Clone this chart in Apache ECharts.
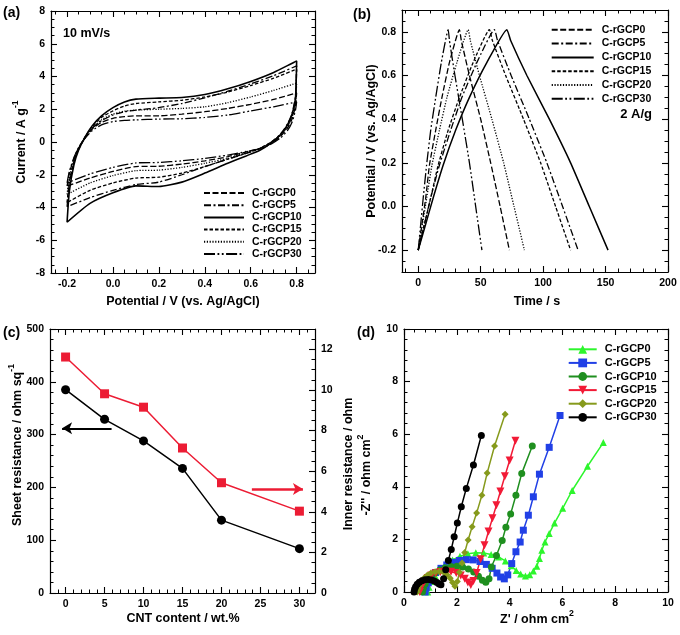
<!DOCTYPE html>
<html><head><meta charset="utf-8">
<script src="https://cdn.jsdelivr.net/npm/echarts@6/dist/echarts.min.js"></script>
<style>html,body{margin:0;padding:0;background:#fff}#c{width:680px;height:635px}</style>
</head><body><div id="c"></div>
<script>
// ---------- shared ----------
const names = ['C-rGCP0','C-rGCP5','C-rGCP10','C-rGCP15','C-rGCP20','C-rGCP30'];
const dashes = [[6,2.5],[7,2.5,2,2.5],'solid',[3.5,2],[1.2,1.6],[11,2.5,1.8,2.5,1.8,2.5]];

// ---------- (a) cyclic voltammetry, 10 mV/s ----------
const cvUpV   = [-0.2,-0.19,-0.17,-0.15,-0.12,-0.09,-0.05,0,0.05,0.1,0.2,0.3,0.4,0.5,0.6,0.7,0.8];
const cvDownV = [0.795,0.78,0.76,0.73,0.69,0.64,0.58,0.5,0.4,0.3,0.2,0.1,0,-0.1,-0.2];
const cvUp0   = [-2.7,-1.9,-1.0,-0.35,0.3,0.8,1.2,1.45,1.55,1.6,1.6,1.7,1.85,2.05,2.3,2.6,3.0];
const cvDown0 = [2.2,1.4,0.85,0.35,-0.08,-0.4,-0.6,-0.9,-1.15,-1.35,-1.48,-1.5,-1.8,-2.2,-2.7];
const cvUp5   = [-3.95,-2.5,-1.25,-0.45,0.3,0.85,1.3,1.65,1.85,1.95,2.1,2.35,2.7,3.1,3.55,4.05,4.65];
const cvDown5 = [2.8,1.75,1.1,0.5,0.0,-0.4,-0.7,-1.05,-1.5,-2.0,-2.45,-2.6,-2.95,-3.4,-3.95];
const cvUp10  = [-4.9,-3.0,-1.4,-0.5,0.35,1.0,1.6,2.1,2.45,2.62,2.68,2.72,2.9,3.25,3.7,4.25,4.95];
const cvDown10= [2.7,1.7,1.05,0.45,-0.05,-0.5,-0.85,-1.3,-1.9,-2.45,-2.72,-2.68,-3.1,-3.75,-4.9];
const cvUp15  = [-3.7,-2.4,-1.2,-0.4,0.35,0.95,1.5,1.9,2.2,2.35,2.45,2.55,2.75,3.05,3.45,3.9,4.45];
const cvDown15= [2.55,1.6,1.0,0.45,0.0,-0.38,-0.68,-1.05,-1.5,-1.9,-2.15,-2.2,-2.5,-2.95,-3.7];
const cvUp20  = [-3.2,-2.2,-1.1,-0.4,0.3,0.85,1.35,1.7,1.88,1.95,2.0,2.05,2.15,2.4,2.75,3.15,3.6];
const cvDown20= [2.4,1.5,0.95,0.4,-0.05,-0.4,-0.65,-1.0,-1.3,-1.55,-1.72,-1.75,-2.05,-2.5,-3.2];
const cvUp30  = [-2.5,-1.8,-0.95,-0.35,0.25,0.7,1.05,1.25,1.32,1.35,1.4,1.42,1.5,1.65,1.9,2.15,2.45];
const cvDown30= [1.95,1.2,0.7,0.25,-0.12,-0.42,-0.58,-0.8,-1.0,-1.15,-1.25,-1.28,-1.55,-1.95,-2.5];
const cvUps = [cvUp0,cvUp5,cvUp10,cvUp15,cvUp20,cvUp30];
const cvDowns = [cvDown0,cvDown5,cvDown10,cvDown15,cvDown20,cvDown30];

// ---------- (b) galvanostatic charge/discharge, 2 A/g : [time s, potential V] ----------
const gcd0  = [[0,-0.2],[3,-0.08],[6,0.04],[9,0.19],[14,0.35],[19,0.5],[25,0.66],[33,0.81],[34.5,0.76],[41,0.6],[50,0.4],[58,0.2],[65.6,0.0],[73,-0.2]];
const gcd5  = [[0,-0.2],[5,-0.08],[10,0.04],[17,0.19],[26,0.35],[35,0.5],[47,0.66],[61,0.81],[63.5,0.76],[74.4,0.6],[89,0.4],[103,0.2],[115.6,0.0],[128,-0.2]];
const gcd10 = [[0,-0.2],[6,-0.08],[12,0.04],[20,0.19],[30,0.35],[41,0.5],[55,0.66],[71,0.81],[74,0.76],[87,0.6],[105,0.4],[122,0.2],[137,0.0],[152,-0.2]];
const gcd15 = [[0,-0.2],[5,-0.08],[10,0.04],[16,0.19],[24,0.35],[33,0.5],[44,0.66],[57,0.81],[59.4,0.76],[70,0.6],[84.3,0.4],[98,0.2],[110,0.0],[122,-0.2]];
const gcd20 = [[0,-0.2],[3.4,-0.08],[6.8,0.04],[11,0.19],[17,0.35],[23,0.5],[31,0.66],[40,0.81],[41.7,0.76],[49,0.6],[59,0.4],[68.4,0.2],[76.7,0.0],[85,-0.2]];
const gcd30 = [[0,-0.2],[2,-0.08],[4,0.04],[6.7,0.19],[10,0.35],[14,0.5],[18.5,0.66],[24,0.81],[25,0.76],[29.4,0.6],[35.3,0.4],[41,0.2],[46,0.0],[51,-0.2]];
const gcds = [gcd0,gcd5,gcd10,gcd15,gcd20,gcd30];

// ---------- (c) resistance vs CNT content ----------
const cntContent = [0,5,10,15,20,30];
const sheetResistance = [385,329,288,236,138,84];
const innerResistance = [11.62,9.81,9.15,7.14,5.43,4.03];

// ---------- (d) Nyquist plots : [Z', -Z''] ----------
const eis0 = [[0.9,0.0],[0.95,0.18],[1.04,0.4],[1.18,0.62],[1.36,0.84],[1.58,1.04],[1.84,1.22],[2.12,1.36],[2.42,1.45],[2.72,1.49],[3.02,1.48],[3.3,1.43],[3.58,1.33],[3.84,1.18],[4.06,1.0],[4.25,0.82],[4.42,0.68],[4.6,0.61],[4.76,0.66],[4.9,0.8],[5.03,0.98],[5.13,1.27],[5.22,1.59],[5.34,1.9],[5.5,2.22],[5.7,2.62],[6.01,3.18],[6.37,3.86],[6.95,4.78],[7.55,5.68]];
const eis5 = [[0.8,0.0],[0.84,0.16],[0.92,0.35],[1.04,0.55],[1.2,0.74],[1.4,0.9],[1.62,1.03],[1.86,1.13],[2.1,1.2],[2.36,1.23],[2.62,1.22],[2.88,1.16],[3.12,1.05],[3.34,0.9],[3.52,0.72],[3.66,0.57],[3.8,0.5],[3.93,0.65],[4.08,1.08],[4.24,1.53],[4.4,1.9],[4.52,2.35],[4.71,2.92],[4.9,3.62],[5.13,4.48],[5.5,5.5],[5.91,6.71]];
const eis10 = [[0.7,0.0],[0.73,0.14],[0.8,0.3],[0.9,0.46],[1.03,0.6],[1.18,0.73],[1.36,0.84],[1.56,0.92],[1.78,0.97],[2.0,0.98],[2.22,0.95],[2.44,0.87],[2.64,0.76],[2.82,0.6],[2.97,0.45],[3.1,0.37],[3.22,0.5],[3.31,0.95],[3.5,1.39],[3.72,1.96],[3.86,2.46],[4.04,2.97],[4.24,3.68],[4.46,4.51],[4.86,5.55]];
const eis15 = [[0.6,0.0],[0.63,0.12],[0.69,0.26],[0.78,0.4],[0.9,0.53],[1.04,0.63],[1.2,0.71],[1.38,0.76],[1.58,0.78],[1.78,0.77],[1.98,0.72],[2.15,0.63],[2.3,0.5],[2.42,0.36],[2.53,0.27],[2.63,0.42],[2.75,0.72],[2.9,1.25],[3.05,1.78],[3.2,2.3],[3.35,2.8],[3.5,3.3],[3.65,3.82],[3.82,4.4],[4.0,5.0],[4.22,5.75]];
const eis20 = [[0.5,0.0],[0.53,0.12],[0.58,0.25],[0.66,0.4],[0.76,0.53],[0.88,0.64],[1.02,0.72],[1.18,0.77],[1.34,0.78],[1.5,0.75],[1.63,0.66],[1.75,0.52],[1.84,0.36],[1.93,0.22],[2.02,0.4],[2.1,0.75],[2.2,1.1],[2.3,1.5],[2.43,1.98],[2.58,2.48],[2.75,3.0],[2.95,3.68],[3.15,4.52],[3.43,5.55],[3.83,6.76]];
const eis30 = [[0.38,0.0],[0.4,0.1],[0.44,0.2],[0.5,0.29],[0.58,0.37],[0.68,0.43],[0.8,0.47],[0.92,0.48],[1.04,0.46],[1.15,0.42],[1.25,0.36],[1.33,0.3],[1.4,0.28],[1.5,0.5],[1.58,0.85],[1.68,1.2],[1.79,1.62],[1.9,2.1],[2.02,2.62],[2.17,3.24],[2.36,3.94],[2.63,4.83],[2.93,5.95]];
const eisData = [eis0,eis5,eis10,eis15,eis20,eis30];
const eisColors = ['#2df52d','#2140e6','#1f8f1f','#f21a36','#869a1c','#000000'];
const eisSymbols = ['triangle','rect','circle','triangle','diamond','circle'];
const eisRotate = [0,0,0,180,0,0];

// ---------- tick labels ----------
const aXTicks = [-0.2,0,0.2,0.4,0.6,0.8];
const aYTicks = [-8,-6,-4,-2,0,2,4,6,8];
const bXTicks = [0,50,100,150,200];
const bYTicks = [-0.2,0,0.2,0.4,0.6,0.8];
const cXTicks = [0,5,10,15,20,25,30];
const cYTicks = [0,100,200,300,400,500];
const cY2Ticks = [0,2,4,6,8,10,12];
const dTicks = [0,2,4,6,8,10];

// ---------- helpers ----------
const FONT = '"Liberation Sans", Arial, Helvetica, sans-serif';
const xAxis = [], yAxis = [];
function stepTicks(min, max, step) {
  const out = [];
  const s = Math.ceil(min / step - 1e-7), e = Math.floor(max / step + 1e-7);
  for (let k = s; k <= e; k++) out.push(+(k * step).toFixed(6));
  return out;
}
function side(list, grid, min, max, majors, minorStep, pos, label) {
  const minors = stepTicks(min, max, minorStep).filter(v => majors.every(m => Math.abs(m - v) > 1e-7));
  const base = {type:'value', gridIndex:grid, min:min, max:max, position:pos, splitLine:{show:false}, silent:true};
  const idx = list.length;
  list.push(Object.assign({}, base, {
    axisLine:{show:true, onZero:false, lineStyle:{color:'#000', width:1.2}},
    axisTick:{show:true, inside:true, length:6, customValues:majors, lineStyle:{color:'#000', width:1.1}},
    axisLabel: label ? Object.assign({show:true, customValues:majors, color:'#000', fontFamily:FONT, fontWeight:'bold', fontSize:10.5, margin:6}, label) : {show:false}
  }));
  list.push(Object.assign({}, base, {
    axisLine:{show:false, onZero:false},
    axisTick:{show:true, inside:true, length:3.5, customValues:minors, lineStyle:{color:'#000', width:1}},
    axisLabel:{show:false}
  }));
  return idx;
}
const f1 = v => v.toFixed(1), f0 = v => String(Math.round(v));

// grid 0 (a)
const ax = side(xAxis,0,-0.27,0.88,aXTicks,0.05,'bottom',{formatter:f1}); side(xAxis,0,-0.27,0.88,aXTicks,0.05,'top',null);
const ay = side(yAxis,0,-8,8,aYTicks,0.5,'left',{formatter:f0}); side(yAxis,0,-8,8,aYTicks,0.5,'right',null);
// grid 1 (b)
const bx = side(xAxis,1,-13,200,bXTicks,10,'bottom',{formatter:f0}); side(xAxis,1,-13,200,bXTicks,10,'top',null);
const by = side(yAxis,1,-0.3,0.9,bYTicks,0.05,'left',{formatter:f1}); side(yAxis,1,-0.3,0.9,bYTicks,0.05,'right',null);
// grid 2 (c)
const cx = side(xAxis,2,-2,32,cXTicks,1,'bottom',{formatter:f0}); side(xAxis,2,-2,32,cXTicks,1,'top',null);
const cy = side(yAxis,2,0,500,cYTicks,20,'left',{formatter:f0});
const cy2 = side(yAxis,2,0,13,cY2Ticks,0.5,'right',{formatter:f0});
// grid 3 (d)
const dx = side(xAxis,3,0,10,dTicks,0.4,'bottom',{formatter:f0}); side(xAxis,3,0,10,dTicks,0.4,'top',null);
const dy = side(yAxis,3,0,10,dTicks,0.4,'left',{formatter:f0}); side(yAxis,3,0,10,dTicks,0.4,'right',null);

const series = [];
names.forEach((n, i) => {
  const data = cvUpV.map((v, k) => [v, cvUps[i][k]]).concat(cvDownV.map((v, k) => [v, cvDowns[i][k]]));
  series.push({name:'a:' + n, type:'line', xAxisIndex:ax, yAxisIndex:ay, data:data, symbol:'none', smooth:0.2,
    lineStyle:{color:'#000', width: i === 2 ? 1.6 : 1.3, type:dashes[i]}, itemStyle:{color:'#000'}});
});
names.forEach((n, i) => {
  series.push({name:'b:' + n, type:'line', xAxisIndex:bx, yAxisIndex:by, data:gcds[i], symbol:'none', smooth:0.15,
    lineStyle:{color:'#000', width: i === 2 ? 1.5 : 1.3, type:dashes[i]}, itemStyle:{color:'#000'}});
});
series.push({name:'sheet', type:'line', xAxisIndex:cx, yAxisIndex:cy, data:cntContent.map((x, k) => [x, sheetResistance[k]]),
  symbol:'circle', symbolSize:9, lineStyle:{color:'#000', width:1.5}, itemStyle:{color:'#000'},
  markLine:{silent:true, symbol:['none','arrow'], symbolSize:[9,10], label:{show:false}, animation:false,
    lineStyle:{color:'#000', width:2, type:'solid'}, emphasis:{disabled:true},
    data:[[{coord:[5.9,312]},{coord:[-0.45,312]}]]}});
series.push({name:'inner', type:'line', xAxisIndex:cx, yAxisIndex:cy2, data:cntContent.map((x, k) => [x, innerResistance[k]]),
  symbol:'rect', symbolSize:9, lineStyle:{color:'#ec1c34', width:1.5}, itemStyle:{color:'#ec1c34'},
  markLine:{silent:true, symbol:['none','arrow'], symbolSize:[9,10], label:{show:false}, animation:false,
    lineStyle:{color:'#ec1c34', width:2.5, type:'solid'}, emphasis:{disabled:true},
    data:[[{coord:[23.9,5.12]},{coord:[30.45,5.12]}]]}});
names.forEach((n, i) => {
  series.push({name:'d:' + n, type:'line', xAxisIndex:dx, yAxisIndex:dy, data:eisData[i],
    symbol:eisSymbols[i], symbolRotate:eisRotate[i], symbolSize: i === 3 ? 8 : 7, showAllSymbol:true,
    lineStyle:{color:eisColors[i], width:1.5}, itemStyle:{color:eisColors[i]}});
});

function legend(prefix, left, top, iw, ih, gap, fs, noSymbol) {
  const lg = {data:names.map(n => prefix + n), left:left, top:top, orient:'vertical', itemWidth:iw, itemHeight:ih, itemGap:gap,
    selectedMode:false, padding:0, formatter:n => n.slice(2),
    textStyle:{fontFamily:FONT, fontWeight:'bold', fontSize:fs, color:'#000', padding:[0,0,0,3]}};
  if (noSymbol) lg.itemStyle = {color:'rgba(0,0,0,0)', borderColor:'rgba(0,0,0,0)', borderWidth:0, opacity:0};
  return lg;
}

function txt(x, y, text, size, align, rot, rich) {
  const el = {type:'text', x:x, y:y, silent:true, style:{text:text, fontFamily:FONT, fontWeight:'bold', fontSize:size, fill:'#000',
    align:align || 'center', verticalAlign:'middle'}};
  if (rot) el.rotation = rot;
  if (rich) el.style.rich = rich;
  return el;
}
const supRich = (size) => ({a:{fontFamily:FONT, fontWeight:'bold', fontSize:size, fill:'#000', lineHeight:17, verticalAlign:'bottom'},
  s:{fontFamily:FONT, fontWeight:'bold', fontSize:size*0.7, fill:'#000', verticalAlign:'top'}});
const R = Math.PI / 2;

const option = {
  animation:false,
  backgroundColor:'#fff',
  grid:[
    {left:51, top:11, width:264, height:262, outerBoundsMode:'none'},
    {left:402, top:10, width:266, height:262, outerBoundsMode:'none'},
    {left:50, top:329, width:265, height:264, outerBoundsMode:'none'},
    {left:404, top:329, width:264, height:263, outerBoundsMode:'none'}
  ],
  xAxis:xAxis, yAxis:yAxis, series:series,
  legend:[
    legend('a:', 203, 187.5, 40, 10, 1.2, 10.5, true),
    legend('b:', 550.7, 24.3, 42, 10, 2.8, 10.5, true),
    legend('d:', 567.7, 343.8, 28, 11, 2.6, 11, false)
  ],
  graphic:[
    txt(3, 13, '(a)', 14, 'left'),
    txt(353, 15, '(b)', 14, 'left'),
    txt(3, 333, '(c)', 14, 'left'),
    txt(357, 333, '(d)', 14, 'left'),
    txt(63, 33.5, '10 mV/s', 12.5, 'left'),
    txt(652, 114, '2 A/g', 13, 'right'),
    txt(183, 302, 'Potential / V (vs. Ag/AgCl)', 12.5),
    txt(20, 142, '{a|Current / A g}{s|-1}', 12.5, 'center', R, supRich(12.5)),
    txt(537, 302, 'Time / s', 12.5),
    txt(372, 141, 'Potential / V (vs. Ag/AgCl)', 12.5, 'center', R),
    txt(183, 619, 'CNT content / wt.%', 12.5),
    txt(16, 445, '{a|Sheet resistance / ohm sq}{s|-1}', 12.5, 'center', R, supRich(12.5)),
    txt(349, 464, 'Inner resistance / ohm', 12.5, 'center', R),
    txt(537, 618, "{a|Z' / ohm cm}{s|2}", 12.5, 'center', 0, supRich(12.5)),
    txt(365, 475, "{a|-Z'' / ohm cm}{s|2}", 12.5, 'center', R, supRich(12.5))
  ]
};
const chart = echarts.init(document.getElementById('c'), null, {renderer:'canvas'});
chart.setOption(option);
</script>
</body></html>
